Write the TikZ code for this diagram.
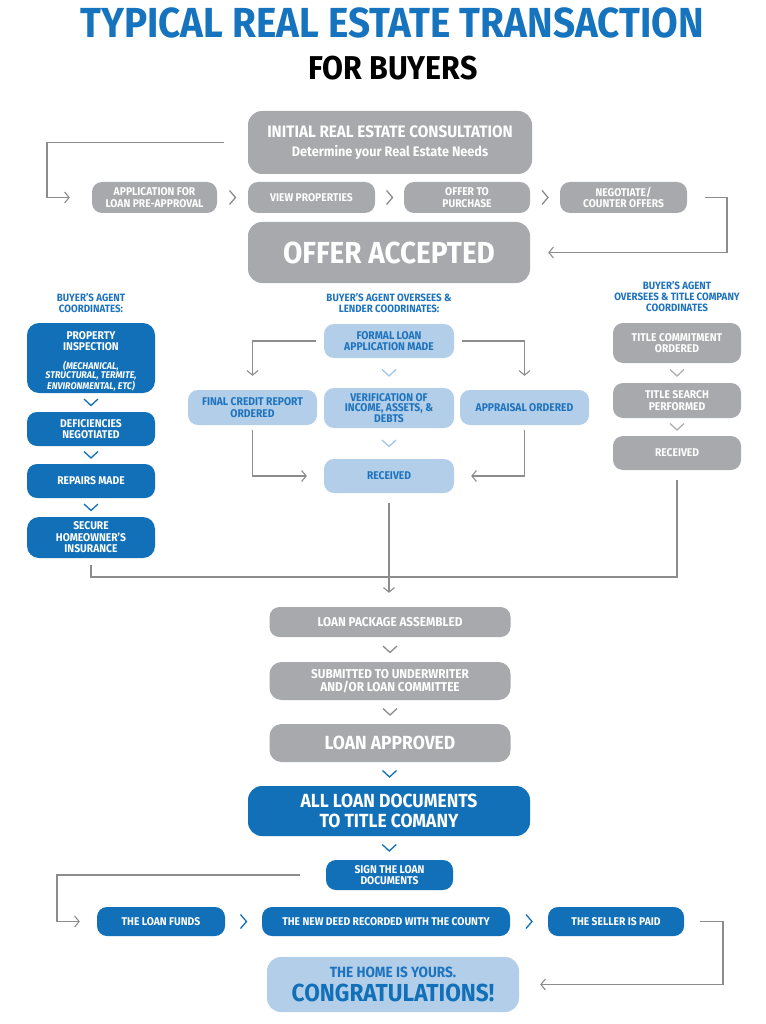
\documentclass[tikz,border=0pt]{standalone}
\usepackage{fontspec}
\usetikzlibrary{arrows.meta,calc}
\newfontfamily\cf[FakeStretch=0.92]{Fira Sans}
\newcommand\myfs[2]{\fontsize{#1}{#2}\selectfont}
\definecolor{boxgray}{RGB}{167,169,172}
\definecolor{dblue}{RGB}{17,112,184}
\definecolor{lblue}{RGB}{178,206,232}
\definecolor{ltext}{RGB}{30,115,190}
\definecolor{titleblue}{RGB}{22,115,190}
\definecolor{linegray}{RGB}{140,140,140}
\definecolor{lchev}{RGB}{165,198,230}
\begin{document}
\begin{tikzpicture}[x=1pt,y=-1pt,
  box/.style={rounded corners=10pt, inner sep=0pt, align=center, text=white, font=\cf\bfseries\myfs{11.2}{11.5}},
  gbox/.style={box, fill=boxgray},
  bbox/.style={box, fill=dblue},
  lbox/.style={box, fill=lblue, text=ltext},
  sz/.style n args={2}{minimum width=#1pt, minimum height=#2pt},
  conn/.style={draw=linegray, line width=1.1pt, -{Straight Barb[length=4.5pt,width=11pt]}},
  plain/.style={draw=linegray, line width=1.1pt},
  head/.style={text=ltext, font=\cf\bfseries\myfs{10.6}{11}, align=center, inner sep=0pt},
  vchev/.pic={\draw[line width=1.3pt] (-7pt,3.5pt) -- (0pt,-3pt) -- (7pt,3.5pt);},
  hchev/.pic={\draw[line width=1.3pt] (-3pt,7pt) -- (3pt,0pt) -- (-3pt,-7pt);}
]
\useasboundingbox[fill=white] (0,0) rectangle (765,1024);

% titles
\node[text=titleblue, font=\cf\bfseries\myfs{42}{44}, inner sep=0pt] (title) at (392,23) {TYPICAL REAL ESTATE TRANSACTION};
\node[text=black, font=\cf\bfseries\myfs{33}{35}, inner sep=0pt] (sub) at (393,68) {FOR BUYERS};

% top section
\node[gbox, sz={284}{63}, rounded corners=14pt] (init) at (390,142.5)
  {\myfs{16.6}{18}INITIAL REAL ESTATE CONSULTATION\\[8pt]\myfs{13.8}{15}Determine your Real Estate Needs};
\node[gbox, sz={125}{31}] (app) at (154.5,197.5) {APPLICATION FOR\\LOAN PRE-APPROVAL};
\node[gbox, sz={127}{31}] (view) at (311.5,197.5) {VIEW PROPERTIES};
\node[gbox, sz={126}{31}] (offer) at (467,197.5) {OFFER TO\\PURCHASE};
\node[gbox, sz={127}{31}] (nego) at (623.5,197.5) {NEGOTIATE/\\COUNTER OFFERS};
\node[gbox, sz={282}{61}, rounded corners=14pt, font=\cf\bfseries\myfs{30.4}{32}] (accepted) at (389,252.5) {OFFER ACCEPTED};

\pic[color=linegray] at ($(app.east)!0.5!(view.west)$) {hchev};
\pic[color=linegray] at ($(view.east)!0.5!(offer.west)$) {hchev};
\pic[color=linegray] at ($(offer.east)!0.5!(nego.west)$) {hchev};

\coordinate (L1) at (47,142.5);
\draw[conn] ([xshift=-24pt]init.west) -- (L1) |- ([xshift=-22pt]app.west);
\coordinate (R1) at (727,197.5);
\draw[conn] ([xshift=18pt]nego.east) -- (R1) |- ([xshift=18pt]accepted.east);

% headings
\node[head] (hleft) at (91,303.5) {BUYER’S AGENT\\COORDINATES:};
\node[head] (hmid) at (389,303.5) {BUYER’S AGENT OVERSEES \&\\LENDER COODRINATES:};
\node[head] (hright) at (677,297) {BUYER’S AGENT\\OVERSEES \& TITLE COMPANY\\COORDINATES};

% left column
\node[bbox, sz={128}{70}, rounded corners=12pt] (pi) at (91,358)
  {\rule{0pt}{16pt}PROPERTY\\INSPECTION\\[9pt]\itshape\myfs{9.7}{9}\begin{tabular}{@{}c@{}}(MECHANICAL,\\STRUCTURAL, TERMITE,\\ENVIRONMENTAL, ETC)\end{tabular}};
\node[bbox, sz={128}{34}] (def) at (91,429) {DEFICIENCIES\\NEGOTIATED};
\node[bbox, sz={128}{34}] (rep) at (91,481) {REPAIRS MADE};
\node[bbox, sz={128}{41}, rounded corners=12pt] (sec) at (91,537.5) {SECURE\\HOMEOWNER’S\\INSURANCE};
\pic[color=dblue] at ($(pi.south)!0.5!(def.north)$) {vchev};
\pic[color=dblue] at ($(def.south)!0.5!(rep.north)$) {vchev};
\pic[color=dblue] at ($(rep.south)!0.5!(sec.north)$) {vchev};

% middle column
\node[lbox, sz={130}{34}] (formal) at (389,341) {FORMAL LOAN\\APPLICATION MADE};
\node[lbox, sz={130}{40}, font=\cf\bfseries\myfs{11.2}{10.6}] (verif) at (389,408) {VERIFICATION OF\\INCOME, ASSETS, \&\\DEBTS};
\node[lbox, sz={130}{34}] (recm) at (389,476) {RECEIVED};
\node[lbox, sz={129}{35}] (credit) at (252.5,407.5) {FINAL CREDIT REPORT\\ORDERED};
\node[lbox, sz={129}{35}] (appr) at (524.5,407.5) {APPRAISAL ORDERED};
\pic[color=lchev] at ($(formal.south)!0.5!(verif.north)$) {vchev};
\pic[color=lchev] at ($(verif.south)!0.5!(recm.north)$) {vchev};

\draw[conn] ([xshift=-8pt]formal.west) -| ([yshift=14pt]credit.north);
\draw[conn] ([xshift=8pt]formal.east) -| ([yshift=14pt]appr.north);
\draw[conn] ([yshift=-5pt]credit.south) |- ([xshift=-17pt]recm.west);
\draw[conn] ([yshift=-5pt]appr.south) |- ([xshift=17pt]recm.east);

% right column
\node[gbox, sz={128}{40}] (tc) at (677,343) {TITLE COMMITMENT\\ORDERED};
\node[gbox, sz={128}{35}] (ts) at (677,400.5) {TITLE SEARCH\\PERFORMED};
\node[gbox, sz={128}{34}] (recr) at (677,453) {RECEIVED};
\pic[color=linegray!70] at ($(tc.south)!0.5!(ts.north)$) {vchev};
\pic[color=linegray!70] at ($(ts.south)!0.5!(recr.north)$) {vchev};

% lower chain
\node[gbox, sz={241}{30}, font=\cf\bfseries\myfs{12.8}{13}] (pkg) at (390,622) {LOAN PACKAGE ASSEMBLED};
\node[gbox, sz={241}{38}, rounded corners=12pt, font=\cf\bfseries\myfs{12.8}{13}] (subm) at (390,681) {SUBMITTED TO UNDERWRITER\\AND/OR LOAN COMMITTEE};
\node[gbox, sz={241}{38}, rounded corners=12pt, font=\cf\bfseries\myfs{19}{20}] (appv) at (390,743) {LOAN APPROVED};
\node[bbox, sz={282}{50}, rounded corners=14pt, font=\cf\bfseries\myfs{19}{20}] (docs) at (389,811) {ALL LOAN DOCUMENTS\\TO TITLE COMANY};
\node[bbox, sz={127}{30}] (sign) at (389.5,875) {SIGN THE LOAN\\DOCUMENTS};
\pic[color=linegray] at ($(pkg.south)!0.5!(subm.north)$) {vchev};
\pic[color=linegray] at ($(subm.south)!0.5!(appv.north)$) {vchev};
\pic[color=dblue] at ($(appv.south)!0.5!(docs.north)$) {vchev};
\pic[color=dblue] at ($(docs.south)!0.5!(sign.north)$) {vchev};

% merge lines
\coordinate (M) at (389,577);
\draw[plain] ([yshift=-7pt]sec.south) |- (M) -| ([yshift=-10pt]recr.south);
\draw[conn] ([yshift=-10pt]recm.south) -- ([yshift=14pt]recm.south |- pkg.north);

% bottom row
\node[bbox, sz={128}{29}] (funds) at (161,921.5) {THE LOAN FUNDS};
\node[bbox, sz={248}{29}] (deed) at (386,921.5) {THE NEW DEED RECORDED WITH THE COUNTY};
\node[bbox, sz={136}{29}] (paid) at (616,921.5) {THE SELLER IS PAID};
\pic[color=dblue] at ($(funds.east)!0.5!(deed.west)$) {hchev};
\pic[color=dblue] at ($(deed.east)!0.5!(paid.west)$) {hchev};

\coordinate (S1) at (57,875);
\draw[conn] ([xshift=-26pt]sign.west) -- (S1) |- ([xshift=-17pt]funds.west);

\node[lbox, sz={252}{55}, rounded corners=14pt] (home) at (393,984.5)
  {\myfs{14.8}{16}THE HOME IS YOURS.\\[6pt]\myfs{24.6}{26}\color{dblue}CONGRATULATIONS!};
\coordinate (P1) at (723,921.5);
\draw[conn] ([xshift=16pt]paid.east) -- (P1) |- ([xshift=21pt]home.east);
\end{tikzpicture}
\end{document}
